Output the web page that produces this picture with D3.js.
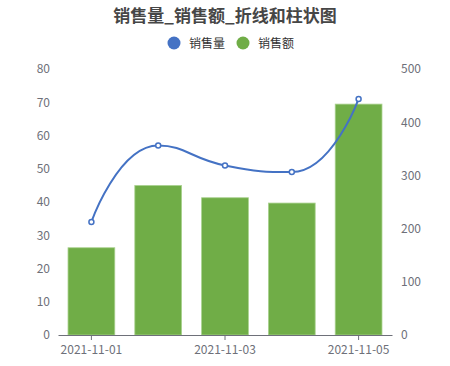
<!DOCTYPE html>
<meta charset="utf-8">
<style>
  body { margin: 0; background: #fff; }
  text { font-family: "Noto Sans CJK SC", "Noto Sans", sans-serif; }
</style>
<body>
<svg id="chart" width="450" height="366"></svg>
<script src="https://d3js.org/d3.v7.min.js"></script>
<script>
  // data
  var dates = ['2021-11-01', '2021-11-02', '2021-11-03', '2021-11-04', '2021-11-05'];
  var qty = [34, 57, 51, 49, 71];          // 销售量 (left axis, line)
  var amount = [164, 281, 258, 248, 434];  // 销售额 (right axis, bars)
  var leftTicks = [0, 10, 20, 30, 40, 50, 60, 70, 80];
  var rightTicks = [0, 100, 200, 300, 400, 500];
  var shownDates = ['2021-11-01', '2021-11-03', '2021-11-05'];

  var margin = {top: 69, right: 58, bottom: 31, left: 58},
      width = 450 - margin.left - margin.right,
      height = 366 - margin.top - margin.bottom;

  var svg = d3.select('#chart')
    .append('g')
      .attr('transform', 'translate(' + margin.left + ',' + margin.top + ')');

  var xScale = d3.scaleBand().domain(dates).range([0, width]);
  var yLeft = d3.scaleLinear().domain([0, 80]).range([height, 0]);
  var yRight = d3.scaleLinear().domain([0, 500]).range([height, 0]);

  var axisColor = '#6E7079';

  // bars
  var barW = xScale.bandwidth() * 0.7;
  svg.selectAll('.bar')
    .data(amount)
    .enter().append('rect')
      .attr('class', 'bar')
      .attr('x', function(d, i) { return xScale(dates[i]) + (xScale.bandwidth() - barW) / 2; })
      .attr('y', function(d) { return yRight(d); })
      .attr('width', barW)
      .attr('height', function(d) { return height - yRight(d); })
      .attr('fill', '#70AD47')
      .attr('stroke', '#A9D18E')
      .attr('stroke-width', 0.8);

  // x axis
  var xAxis = svg.append('g')
    .attr('transform', 'translate(0,' + height + ')')
    .call(d3.axisBottom(xScale).tickValues(shownDates).tickSize(5).tickSizeOuter(0));
  xAxis.select('.domain').attr('stroke', axisColor);
  xAxis.selectAll('.tick line').attr('stroke', axisColor);
  xAxis.selectAll('.tick text').attr('fill', axisColor).attr('font-size', 12).attr('dy', '0.95em');

  // left axis (labels only)
  var lAxis = svg.append('g')
    .call(d3.axisLeft(yLeft).tickValues(leftTicks).tickSize(0).tickPadding(8));
  lAxis.select('.domain').remove();
  lAxis.selectAll('.tick text').attr('fill', axisColor).attr('font-size', 12);

  // right axis (labels only)
  var rAxis = svg.append('g')
    .attr('transform', 'translate(' + width + ',0)')
    .call(d3.axisRight(yRight).tickValues(rightTicks).tickSize(0).tickPadding(9));
  rAxis.select('.domain').remove();
  rAxis.selectAll('.tick text').attr('fill', axisColor).attr('font-size', 12);

  // smoothed line: flat tangent at peaks/valleys, open ends
  var pts = qty.map(function(d, i) {
    return [xScale(dates[i]) + xScale.bandwidth() / 2, yLeft(d)];
  });
  var smooth = 0.5;
  var p = d3.path();
  p.moveTo(pts[0][0], pts[0][1]);
  var cpx0 = pts[0][0], cpy0 = pts[0][1];
  for (var i = 1; i < pts.length; i++) {
    var x = pts[i][0], y = pts[i][1];
    var cpx1 = x, cpy1 = y, nx0 = x, ny0 = y;
    if (i < pts.length - 1) {
      var prev = pts[i - 1], next = pts[i + 1];
      var vx = next[0] - prev[0], vy = next[1] - prev[1];
      if ((y - prev[1]) * (next[1] - y) <= 0) vy = 0;
      var l0 = Math.hypot(x - prev[0], y - prev[1]);
      var l1 = Math.hypot(next[0] - x, next[1] - y);
      var r = l1 / (l0 + l1);
      cpx1 = x - vx * smooth * (1 - r);
      cpy1 = y - vy * smooth * (1 - r);
      nx0 = x + vx * smooth * r;
      ny0 = y + vy * smooth * r;
    }
    p.bezierCurveTo(cpx0, cpy0, cpx1, cpy1, x, y);
    cpx0 = nx0; cpy0 = ny0;
  }

  svg.append('path')
    .attr('fill', 'none')
    .attr('stroke', '#4472C4')
    .attr('stroke-width', 2)
    .attr('d', p.toString());

  svg.selectAll('.dot')
    .data(qty)
    .enter().append('circle')
      .attr('cx', function(d, i) { return xScale(dates[i]) + xScale.bandwidth() / 2; })
      .attr('cy', function(d) { return yLeft(d); })
      .attr('r', 2.5)
      .attr('fill', '#fff')
      .attr('stroke', '#4472C4')
      .attr('stroke-width', 1.5);

  // title
  var root = d3.select('#chart');
  root.append('text')
    .attr('x', 225).attr('y', 22)
    .attr('text-anchor', 'middle')
    .attr('font-size', 17).attr('font-weight', 'bold')
    .attr('fill', '#464646')
    .text('销售量_销售额_折线和柱状图');

  // legend
  var legend = [{name: '销售量', color: '#4472C4', x: 174}, {name: '销售额', color: '#70AD47', x: 243}];
  legend.forEach(function(l) {
    root.append('circle').attr('cx', l.x).attr('cy', 43).attr('r', 6.5).attr('fill', l.color);
    root.append('text').attr('x', l.x + 15).attr('y', 47.5)
      .attr('font-size', 12).attr('fill', '#333').text(l.name);
  });
</script>
</body>
